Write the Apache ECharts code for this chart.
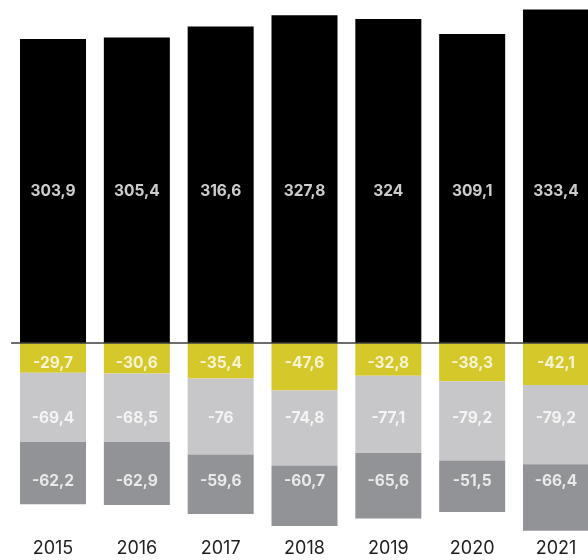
<!DOCTYPE html>
<html>
<head>
<meta charset="utf-8">
<script src="https://cdn.jsdelivr.net/npm/echarts@6/dist/echarts.min.js"></script>
<style>
  html, body { margin: 0; padding: 0; background: #ffffff; }
  #chart { width: 588px; height: 560px; }
</style>
</head>
<body>
<div id="chart"></div>
<script>
// Years along the x axis
const years = ['2015', '2016', '2017', '2018', '2019', '2020', '2021'];

// Positive component (black bars above zero)
const mainValues = [303.9, 305.4, 316.6, 327.8, 324, 309.1, 333.4];

// Negative components, stacked downward from zero
const yellowValues = [-29.7, -30.6, -35.4, -47.6, -32.8, -38.3, -42.1];
const lightGreyValues = [-69.4, -68.5, -76, -74.8, -77.1, -79.2, -79.2];
const darkGreyValues = [-62.2, -62.9, -59.6, -60.7, -65.6, -51.5, -66.4];

const fmt = v => String(v).replace('.', ',');

const chart = echarts.init(document.getElementById('chart'), null, { renderer: 'canvas' });

function barSeries(name, values, color) {
  return {
    name: name,
    type: 'bar',
    stack: 'total',
    stackStrategy: 'samesign',
    data: values,
    barWidth: 66,
    clip: false,
    itemStyle: { color: color },
    silent: true
  };
}

// Value labels sit on a fixed row per component, independent of bar height
function labelRow(values, rowY) {
  return {
    type: 'scatter',
    symbolSize: 0,
    silent: true,
    clip: false,
    z: 5,
    data: values.map((v, i) => ({ value: [i, rowY], raw: v })),
    label: {
      show: true,
      position: 'inside',
      color: '#ffffff',
      fontFamily: 'Inter',
      fontWeight: 'bold',
      fontSize: 15.5,
      formatter: p => fmt(p.data.raw)
    }
  };
}

chart.setOption({
  animation: false,
  grid: { left: 11.1, top: 3, width: 586.8, height: 540, outerBoundsMode: 'none', containLabel: false },
  xAxis: {
    type: 'category',
    data: years,
    axisLine: { show: false, onZero: false },
    axisTick: { show: false },
    axisLabel: {
      margin: 6,
      verticalAlign: 'middle',
      lineHeight: 18,
      fontFamily: 'Inter',
      fontSize: 18,
      color: '#1e1e1e'
    }
  },
  yAxis: {
    type: 'value',
    min: -200,
    max: 340,
    show: false,
    splitLine: { show: false }
  },
  series: [
    barSeries('main', mainValues, '#000000'),
    barSeries('yellow', yellowValues, '#d5c82b'),
    barSeries('lightGrey', lightGreyValues, '#c7c7c9'),
    Object.assign(barSeries('darkGrey', darkGreyValues, '#929396'), {
      markLine: {
        silent: true,
        symbol: 'none',
        label: { show: false },
        lineStyle: { color: '#3c3c3c', width: 1.5, type: 'solid' },
        data: [{ yAxis: 0 }]
      }
    }),
    labelRow(mainValues, 152),
    labelRow(yellowValues, -20),
    labelRow(lightGreyValues, -75),
    labelRow(darkGreyValues, -138)
  ]
});
</script>
</body>
</html>
